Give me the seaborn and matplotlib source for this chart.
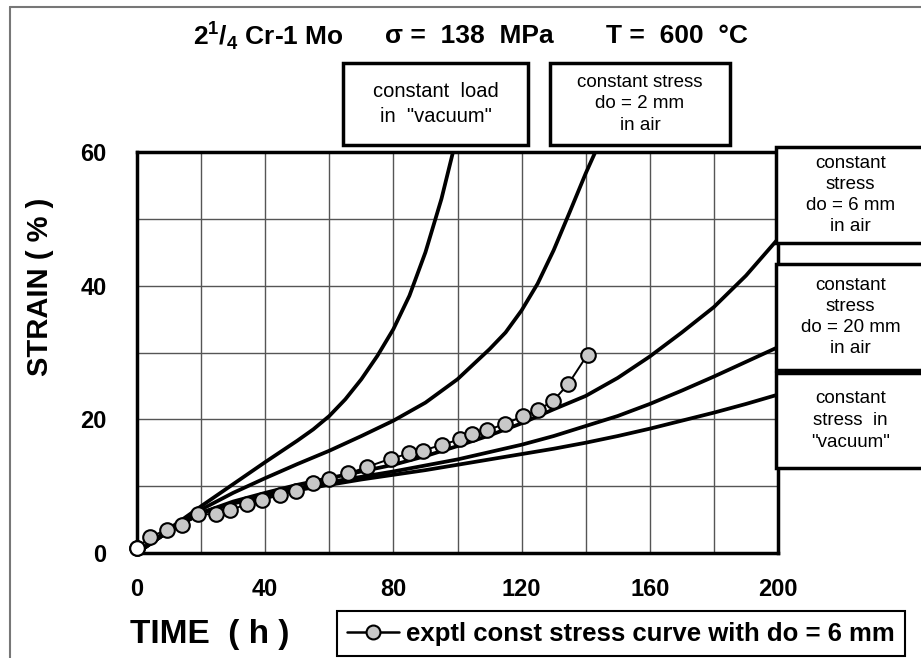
import matplotlib
matplotlib.use("Agg")
import matplotlib.pyplot as plt
import seaborn as sns
import pandas as pd
from matplotlib.ticker import MultipleLocator
from matplotlib.patches import Rectangle
from matplotlib.lines import Line2D

# ---------------- data ----------------
load_vac_t = [0, 10, 20, 30, 40, 50, 55, 60, 65, 70, 75, 80, 85, 90, 95, 98.6]
load_vac_e = [0, 3.6, 7, 10.3, 13.6, 16.8, 18.5, 20.5, 23, 26, 29.5, 33.5, 38.5, 45, 53, 60]

s2_t = [0, 10, 20, 30, 40, 50, 60, 70, 80, 90, 100, 110, 115, 120, 125, 130, 135, 140, 143]
s2_e = [0, 3.5, 6.5, 9, 11.2, 13.3, 15.3, 17.5, 19.8, 22.5, 26, 30.5, 33, 36.3, 40.3, 45.3, 51, 56.8, 60]

long_t = [0, 10, 20, 30, 40, 50, 60, 70, 80, 90, 100, 110, 120, 130, 140, 150, 160, 170, 180, 190, 200]
s6_e = [0, 3.3, 6, 7.7, 9, 10.2, 11.2, 12.2, 13.2, 14.5, 16, 17.6, 19.4, 21.5, 23.5, 26.2, 29.4, 33, 36.8, 41.5, 47]
s20_e = [0, 3.3, 6, 7.5, 8.7, 9.7, 10.6, 11.4, 12.2, 13.1, 14, 15.1, 16.2, 17.5, 19, 20.5, 22.3, 24.3, 26.4, 28.6, 30.8]
svac_e = [0, 3.3, 6, 7.4, 8.5, 9.4, 10.2, 11, 11.7, 12.4, 13.2, 14, 14.8, 15.6, 16.5, 17.5, 18.6, 19.8, 21, 22.3, 23.7]

exp_t = [0, 4.1, 9.3, 13.9, 18.9, 24.5, 29, 34.2, 39.1, 44.6, 49.5, 54.8, 60, 65.9, 71.9,
         79.1, 85, 89.1, 95.1, 100.8, 104.4, 109.3, 114.8, 120.5, 125.2, 129.9, 134.6, 140.6]
exp_e = [0.7, 2.4, 3.5, 4.2, 5.8, 5.8, 6.4, 7.3, 7.9, 8.7, 9.3, 10.4, 11.1, 11.9, 12.9,
         14.1, 14.9, 15.3, 16.2, 17.0, 17.8, 18.4, 19.3, 20.5, 21.4, 22.8, 25.3, 29.7]

x_ticks = [0, 40, 80, 120, 160, 200]
y_ticks = [0, 20, 40, 60]

curve_labels = ["constant  load\nin  \"vacuum\"",
                "constant stress\ndo = 2 mm\nin air",
                "constant\nstress\ndo = 6 mm\nin air",
                "constant\nstress\ndo = 20 mm\nin air",
                "constant\nstress  in\n\"vacuum\""]
legend_label = "exptl const stress curve with do = 6 mm"

# ---------------- style ----------------
sns.set_theme(style="white")
plt.rcParams['font.family'] = ['Liberation Sans', 'DejaVu Sans']
plt.rcParams['mathtext.fontset'] = 'custom'
plt.rcParams['mathtext.bf'] = 'Liberation Sans:bold'
plt.rcParams['mathtext.rm'] = 'Liberation Sans:bold'
plt.rcParams['text.color'] = 'black'
plt.rcParams['xtick.color'] = 'black'
plt.rcParams['ytick.color'] = 'black'

W, H = 921, 658
fig = plt.figure(figsize=(W / 100, H / 100), dpi=100)
fig.patch.set_facecolor("white")


def fx(px):
    return px / W


def fy(py):
    return 1 - py / H


ax = fig.add_axes([fx(137), fy(553), fx(778) - fx(137), fy(152) - fy(553)])
ax.set_facecolor("white")

curves = [(load_vac_t, load_vac_e), (s2_t, s2_e), (long_t, s6_e), (long_t, s20_e), (long_t, svac_e)]
for (t, e), lab in zip(curves, curve_labels):
    df = pd.DataFrame({"t": t, "e": e})
    sns.lineplot(data=df, x="t", y="e", ax=ax, color="black", linewidth=2.7,
                 sort=False, estimator=None, zorder=3)

dfe = pd.DataFrame({"t": exp_t, "e": exp_e})
sns.lineplot(data=dfe, x="t", y="e", ax=ax, color="black", linewidth=1.4,
             marker="o", markersize=10.5, markerfacecolor="#c8c8c8",
             markeredgecolor="black", markeredgewidth=1.5, sort=False,
             estimator=None, zorder=4, clip_on=False)
ax.plot(exp_t[:1], exp_e[:1], marker="o", markersize=10.5, markerfacecolor="white",
        markeredgecolor="black", markeredgewidth=1.5, linestyle="none", zorder=5, clip_on=False)

ax.set_xlim(0, 200)
ax.set_ylim(0, 60)
ax.set_xticks(x_ticks)
ax.set_yticks(y_ticks)
ax.xaxis.set_minor_locator(MultipleLocator(20))
ax.yaxis.set_minor_locator(MultipleLocator(10))
ax.grid(which="both", color="#555555", linewidth=1.0)
ax.set_axisbelow(True)
ax.tick_params(which="major", direction="out", length=6, width=1.2, color="black",
               labelsize=17, labelcolor="black")
ax.tick_params(axis="x", which="major", pad=12)
ax.tick_params(axis="y", which="major", pad=16)
ax.tick_params(which="minor", length=0)
for lbl in ax.get_xticklabels() + ax.get_yticklabels():
    lbl.set_fontweight("bold")
for sp in ax.spines.values():
    sp.set_visible(True)
    sp.set_color("black")
    sp.set_linewidth(2.5)
ax.set_xlabel("")
ax.set_ylabel("")

# axis titles
fig.text(fx(40), fy(287), "STRAIN ( % )", rotation=90, ha="center", va="center",
         fontsize=21, fontweight="bold")
fig.text(fx(130), fy(634), "TIME  ( h )", ha="left", va="center",
         fontsize=24, fontweight="bold")

# title pieces
fig.text(fx(193), fy(36), r"2$^{\mathbf{1}}$/$_{\mathbf{4}}$ Cr-1 Mo", ha="left", va="center",
         fontsize=19, fontweight="bold")
fig.text(fx(385), fy(36), "σ =  138  MPa", ha="left", va="center",
         fontsize=19, fontweight="bold")
fig.text(fx(606), fy(36), "T =  600  °C", ha="left", va="center",
         fontsize=19, fontweight="bold")

# label boxes (pixel rectangles)
boxes = [(343, 63, 528, 145), (550, 63, 730, 145), (776, 147, 930, 243),
         (776, 264, 930, 370), (776, 373, 930, 468)]
sizes = [14.5, 13.5, 13.5, 13.5, 13.5]
spacing = [1.45, 1.35, 1.3, 1.3, 1.35]
for (x0, y0, x1, y1), lab, fs, ls in zip(boxes, curve_labels, sizes, spacing):
    fig.patches.append(Rectangle((fx(x0), fy(y1)), fx(x1) - fx(x0), fy(y0) - fy(y1),
                                 transform=fig.transFigure, facecolor="white",
                                 edgecolor="black", linewidth=2.5, zorder=5))
    cx = (x0 + x1) / 2 if x1 < 900 else (x0 + 921) / 2 + 2
    fig.text(fx(cx), fy((y0 + y1) / 2), lab, ha="center", va="center",
             fontsize=fs, linespacing=ls, zorder=6)

# figure border (left & top)
fig.add_artist(Line2D([fx(10), fx(10)], [fy(7), fy(660)], transform=fig.transFigure,
                      color="#777777", linewidth=1.5))
fig.add_artist(Line2D([fx(10), fx(921)], [fy(7), fy(7)], transform=fig.transFigure,
                      color="#777777", linewidth=1.5))

# legend
handle = Line2D([], [], color="black", linewidth=1.8, marker="o", markersize=10,
                markerfacecolor="#c8c8c8", markeredgecolor="black", markeredgewidth=1.5)
leg = fig.legend([handle], [legend_label], loc="lower left",
                 bbox_to_anchor=(fx(337), fy(656)), frameon=True, fancybox=False,
                 edgecolor="black", framealpha=1, handlelength=2.0, handletextpad=0.3,
                 borderpad=0.4, borderaxespad=0, prop={"weight": "bold", "size": 18.5})
leg.get_frame().set_linewidth(1.5)

fig.savefig("out.png", dpi=100, facecolor="white")
